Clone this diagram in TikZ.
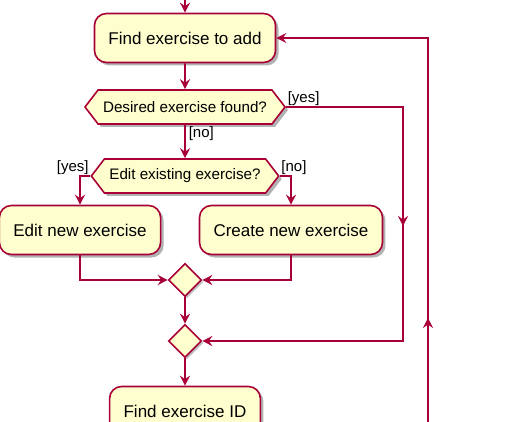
\documentclass[tikz,border=0pt]{standalone}
\usepackage{fontspec}
\setmainfont{Liberation Sans}
\usetikzlibrary{arrows.meta,shapes.geometric,shapes.symbols,shadows,decorations.markings}
\definecolor{umlred}{HTML}{A80036}
\definecolor{umlfill}{HTML}{FEFECE}

\begin{document}
\begin{tikzpicture}[x=1pt,y=-1pt,->,>={Stealth[length=10pt,width=10pt,inset=3.5pt]},color=umlred,line width=1.6pt,node distance=69pt]
	\tikzstyle{action}=[rectangle,rounded corners=12pt,draw=umlred,fill=umlfill,text=black,minimum height=49pt,inner xsep=14pt,font=\fontsize{17}{20}\selectfont,drop shadow={shadow xshift=3pt,shadow yshift=-3pt,opacity=.3,fill=black}]
	\tikzstyle{decide}=[signal,signal to=west and east,signal pointer angle=105,draw=umlred,fill=umlfill,text=black,minimum height=34pt,inner xsep=5pt,inner ysep=6pt,font=\fontsize{15.2}{18}\selectfont,drop shadow={shadow xshift=3pt,shadow yshift=-3pt,opacity=.3,fill=black}]
	\tikzstyle{merge}=[diamond,aspect=1,draw=umlred,fill=umlfill,minimum size=33pt,inner sep=0pt,drop shadow={shadow xshift=2pt,shadow yshift=-2pt,opacity=.25,fill=black}]
	\tikzstyle{guard}=[text=black,inner sep=1pt,font=\fontsize{15}{18}\selectfont]
	\tikzstyle{midarrow}=[postaction={decorate,decoration={markings,mark=at position #1 with {\arrow{>}}}}]
	\useasboundingbox (0,0) rectangle (527,422);
	\clip (0,0) rectangle (527,422);
	\node[action] (find)                                      at (185,38) {Find exercise to add};
	\node[decide] (found)  [below of = find]                  {Desired exercise found?};
	\node[decide] (edit)   [below of = found]                 {Edit existing exercise?};
	\node[action] (editnew)                                   at (80,230)  {Edit new exercise};
	\node[action] (create)                                    at (291,230) {Create new exercise};
	\node[merge]  (merge1) [below of = edit, node distance=104pt]  {};
	\node[merge]  (merge2) [below of = merge1, node distance=61pt] {};
	\node[action] (findid) [below of = merge2, node distance=70pt] {Find exercise ID};
	\coordinate (start)   at (185,-5);
	\coordinate (yesturn) at (403,107);
	\coordinate (loopin)  at (428,430);
	\coordinate (loopup)  at (428,38);
	\node[guard,anchor=south west] (yesfound) at (found.east)  {[yes]};
	\node[guard,anchor=north west] (nofound)  at ([xshift=2pt]found.south) {[no]};
	\node[guard,anchor=south east] (yesedit)  at (edit.west)   {[yes]};
	\node[guard,anchor=south west] (noedit)   at (edit.east)   {[no]};
	\draw (start) -- (find);
	\draw (find) -- (found);
	\draw (found) -- (edit);
	\draw (edit.west) -| (editnew.north);
	\draw (edit.east) -| (create.north);
	\draw (editnew.south) |- (merge1.west);
	\draw (create.south) |- (merge1.east);
	\draw (merge1) -- (merge2);
	\draw (merge2) -- (findid);
	\draw[midarrow=236pt] (found.east) -- (yesturn) |- (merge2.east);
	\draw[midarrow=112pt] (loopin) -- (loopup) -- (find.east);
\end{tikzpicture}
\end{document}
